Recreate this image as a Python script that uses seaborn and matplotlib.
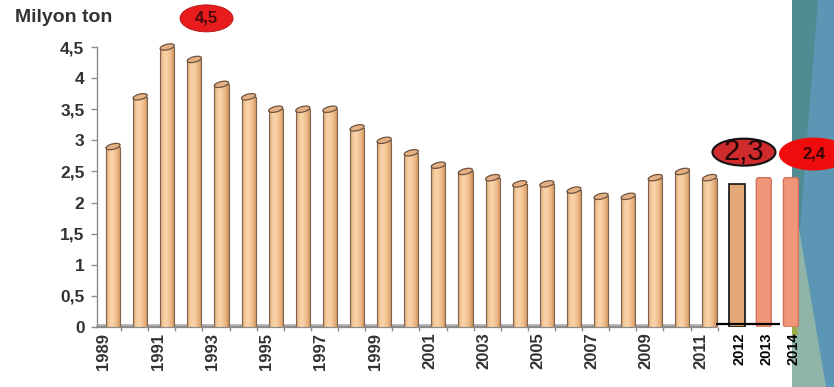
import numpy as np
import pandas as pd
import matplotlib
matplotlib.use("Agg")
import matplotlib.pyplot as plt
import matplotlib.transforms as mtransforms
from matplotlib.patches import Ellipse, Polygon, FancyBboxPatch
from matplotlib.colors import LinearSegmentedColormap
import seaborn as sns

# Annual production, million tonnes
years = [str(y) for y in range(1989, 2015)]
production = [2.9, 3.7, 4.5, 4.3, 3.9, 3.7, 3.5, 3.5, 3.5, 3.2, 3.0, 2.8, 2.6,
              2.5, 2.4, 2.3, 2.3, 2.2, 2.1, 2.1, 2.4, 2.5, 2.4, 2.3, 2.4, 2.4]
observed_years = years[:23]
estimate_years = ["2012"]
forecast_years = ["2013", "2014"]
labeled_years = [str(y) for y in range(1989, 2012, 2)] + ["2012", "2013", "2014"]
y_ticks = [0, 0.5, 1, 1.5, 2, 2.5, 3, 3.5, 4, 4.5]

sns.set_theme(style="white")
plt.rcParams["font.family"] = ["Liberation Sans", "DejaVu Sans"]

W, H = 834, 387
fig = plt.figure(figsize=(W / 100, H / 100), dpi=100)


def fpx(x, y):
    return (x / W, 1 - y / H)


# decorative slide border on the right
panel = [
    ([(792, 0), (834, 0), (834, 387), (792, 387)], "#5b97b4"),
    ([(792, 0), (818, 0), (792, 330)], "#4f8b93"),
    ([(792, 187), (826, 387), (792, 387)], "#8fb4a8"),
    ([(792, 280), (798, 335), (792, 335)], "#9fae46"),
]
for pts, col in panel:
    fig.add_artist(Polygon([fpx(*p) for p in pts], closed=True, transform=fig.transFigure,
                           facecolor=col, edgecolor="none", zorder=-5))

ax = fig.add_axes([97 / W, 60 / H, 737 / W, 280 / H])
ax.set_facecolor("none")

df = pd.DataFrame({"year": years, "value": production})
obs = df[df["year"].isin(observed_years)]
est = df[df["year"].isin(estimate_years)]
fc = df[df["year"].isin(forecast_years)]

sns.barplot(data=obs, x="year", y="value", order=years, color="#f3c495", saturation=1,
            width=0.52, edgecolor="#7d6450", linewidth=0.8, ax=ax, zorder=3)
obs_bars = list(ax.patches)
sns.barplot(data=est, x="year", y="value", order=years, color="#e2a977", saturation=1,
            width=0.59, edgecolor="#111111", linewidth=1.2, ax=ax, zorder=3)
n_before = len(ax.patches)
sns.barplot(data=fc, x="year", y="value", order=years, color="#f0967a", saturation=1,
            width=0.55, edgecolor="#d4735c", linewidth=1.0, ax=ax, zorder=3)
fc_bars = list(ax.patches)[n_before:]

# cylinder shading and top caps for the observed bars
cmap = LinearSegmentedColormap.from_list(
    "cyl", ["#d29d6c", "#f4c99b", "#f9d4ac", "#f5c698", "#e8b07c", "#c48b5a"])
grad = np.linspace(0, 1, 64).reshape(1, -1)
for p in obs_bars:
    x0, w, h = p.get_x(), p.get_width(), p.get_height()
    im = ax.imshow(grad, extent=(x0, x0 + w, 0, h), cmap=cmap, aspect="auto",
                   interpolation="bilinear", zorder=3.1)
    im.set_clip_path(p)
    p.set_facecolor("none")
    p.set_zorder(3.2)
    cap = Ellipse((0, 0), 0.145, 0.055, angle=14, facecolor="#e4b084",
                  edgecolor="#6e5440", linewidth=0.9, zorder=3.3,
                  transform=fig.dpi_scale_trans
                  + mtransforms.ScaledTranslation(x0 + w / 2, h, ax.transData))
    cap.set_clip_on(False)
    ax.add_artist(cap)

# rounded forecast bars
for p in fc_bars:
    x0, y0, w, h = p.get_x(), p.get_y(), p.get_width(), p.get_height()
    fb = FancyBboxPatch((x0, y0), w, h, boxstyle="round,pad=0,rounding_size=0.09",
                        mutation_aspect=0.45, facecolor=p.get_facecolor(),
                        edgecolor="#d4735c", linewidth=1.0, zorder=3)
    p.remove()
    ax.add_patch(fb)

xmin, xmax = -0.59, 26.59
ax.set_xlim(xmin, xmax)
ax.set_ylim(0, 4.5)

# floor under the observed series
ax.fill_between([xmin, 22.25], 0, 0.05, color="#b9b9b9", zorder=2.5, linewidth=0)
ax.plot([22.25, 24.6], [0.045, 0.045], color="black", lw=1.6, zorder=4,
        solid_capstyle="butt", clip_on=False)

for s in ["top", "right"]:
    ax.spines[s].set_visible(False)
ax.spines["left"].set_color("#8c8c8c")
ax.spines["left"].set_linewidth(1.0)
ax.spines["bottom"].set_color("#8c8c8c")
ax.spines["bottom"].set_linewidth(1.6)
ax.spines["bottom"].set_bounds(xmin, 22.25)

ax.set_yticks(y_ticks)
ax.set_yticklabels([f"{v:g}".replace(".", ",") for v in y_ticks],
                   fontsize=12.5, fontweight="bold", color="#333333")
ax.tick_params(axis="y", length=4, color="#8c8c8c", width=1, pad=5, direction="out", left=True)

ax.set_xticks(range(len(years)))
ax.set_xticklabels([y if y in labeled_years else "" for y in years], rotation=90,
                   fontsize=12, fontweight="bold", color="#333333", va="top", ha="center")
ax.tick_params(axis="x", which="major", length=0, pad=4)
ax.set_xticks([i + 0.3 for i in range(len(observed_years))], minor=True)
ax.tick_params(axis="x", which="minor", length=3, color="#8c8c8c", width=1,
               direction="out", bottom=True)
for lab, yr in zip(ax.get_xticklabels(), years):
    if yr in estimate_years + forecast_years:
        lab.set_color("black")
        lab.set_fontsize(10.5)
        dx = 3 / 100
    else:
        dx = -9 / 100
    lab.set_transform(lab.get_transform()
                      + mtransforms.ScaledTranslation(dx, 0, fig.dpi_scale_trans))
ax.set_xlabel("")
ax.set_ylabel("")

fig.text(15 / W, 1 - 17 / H, "Milyon ton", ha="left", va="center", fontsize=14,
         fontweight="bold", color="#333333")


def fmt(v):
    return f"{v:g}".replace(".", ",")


def bubble(x, y, w, h, text, face, edge, lw, tcolor, size, weight):
    e = Ellipse((0, 0), w / 100, h / 100, facecolor=face, edgecolor=edge, linewidth=lw,
                zorder=6, transform=fig.dpi_scale_trans
                + mtransforms.ScaledTranslation(x, y, ax.transData))
    e.set_clip_on(False)
    ax.add_artist(e)
    ax.text(x, y, text, ha="center", va="center", fontsize=size, fontweight=weight,
            color=tcolor, zorder=7, clip_on=False)


peak = max(production)
bubble(3.45, 4.96, 53, 27, fmt(peak), "#e81c1c", "#b01010", 0.6, "#4a0a0a", 12, "bold")
bubble(23.27, 2.81, 63, 27, fmt(production[years.index("2012")]), "#cf2a2c", "#111111",
       1.5, "#220606", 21, "normal")
bubble(25.85, 2.78, 70, 33, fmt(production[years.index("2014")]), "#f00c0c", "none",
       0, "#3a0505", 12, "bold")

fig.savefig("out.png", dpi=100)
